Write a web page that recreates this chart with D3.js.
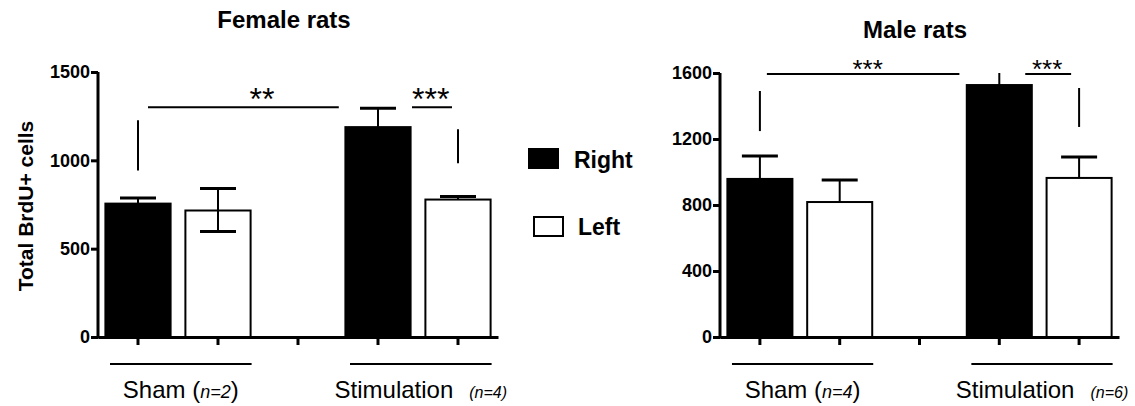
<!DOCTYPE html>
<html>
<head>
<meta charset="utf-8">
<script src="https://cdn.jsdelivr.net/npm/d3@7"></script>
<style>
  body { margin: 0; background: #fff; }
  svg text { font-family: Arial, "Liberation Sans", sans-serif; }
</style>
</head>
<body>
<script>
// slots on the x axis: two groups with an empty slot between them
var slots = ["Sham Right", "Sham Left", "gap", "Stimulation Right", "Stimulation Left"];
var barSlots = ["Sham Right", "Sham Left", "Stimulation Right", "Stimulation Left"];
var barSides = ["Right", "Left", "Right", "Left"];

var femaleMeans = [755, 716, 1188, 778];
var femaleErr = [32, 125, 107, 17];
var femaleErrLow = [0, 119, 0, 0];
var femaleTicks = [0, 500, 1000, 1500];

var maleMeans = [958, 818, 1527, 964];
var maleErr = [139, 134, 160, 127];
var maleErrLow = [0, 0, 0, 0];
var maleTicks = [0, 400, 800, 1200, 1600];

var groupNames = ["Sham", "Stimulation"];
var femaleN = ["n=2", "n=4"];
var maleN = ["n=4", "n=6"];

// significance bars (x in slot index units, y in data units)
var femaleSig = [
  {from: 0.125, to: 2.51, y: 1301, label: "**", at: 1.55},
  {from: 3.425, to: 3.925, y: 1301, label: "***", at: 3.66}
];
var femaleMarks = [{slot: 0, lo: 943, hi: 1227}, {slot: 4, lo: 983, hi: 1176}];
var maleSig = [
  {from: 0.0875, to: 2.5, y: 1594, label: "***", at: 1.35},
  {from: 3.325, to: 3.9, y: 1594, label: "***", at: 3.6}
];
var maleMarks = [{slot: 0, lo: 1248, hi: 1491}, {slot: 4, lo: 1273, hi: 1509}];

var width = 1135;
var height = 406;

var svg = d3.select("body").append("svg").attr("width", width).attr("height", height);

function drawPanel(p) {
  var g = svg.append("g");

  var x = d3.scaleBand()
    .domain(slots)
    .range([p.left, p.right])
    .paddingInner(0.16)
    .paddingOuter(0.08);
  // slot index -> pixel
  var xi = d3.scaleLinear().domain([-0.5, slots.length - 0.5]).range([p.left, p.right]);

  var y = d3.scaleLinear()
    .domain([0, p.max])
    .range([p.bottom, p.top]);

  // bars
  g.selectAll("rect.bar")
    .data(p.means)
    .enter()
    .append("rect")
    .attr("class", "bar")
    .attr("x", function(d, i) { return x(barSlots[i]) + 1; })
    .attr("width", x.bandwidth() - 2)
    .attr("y", function(d) { return y(d); })
    .attr("height", function(d) { return p.bottom - y(d); })
    .attr("fill", function(d, i) { return barSides[i] == "Right" ? "#000" : "#fff"; })
    .attr("stroke", "#000")
    .attr("stroke-width", 2);

  // error bars
  var cap = 36;
  p.means.forEach(function(m, i) {
    var cx = x(barSlots[i]) + x.bandwidth() / 2;
    var hi = Math.min(m + p.err[i], p.max);
    var lo = m - p.errLow[i];
    g.append("line")
      .attr("x1", cx).attr("x2", cx)
      .attr("y1", y(lo)).attr("y2", y(hi))
      .attr("stroke", "#000")
      .attr("stroke-width", 2);
    if (m + p.err[i] <= p.max) {
      g.append("line")
        .attr("x1", cx - cap / 2).attr("x2", cx + cap / 2)
        .attr("y1", y(hi)).attr("y2", y(hi))
        .attr("stroke", "#000").attr("stroke-width", 3);
    }
    if (p.errLow[i] > 0) {
      g.append("line")
        .attr("x1", cx - cap / 2).attr("x2", cx + cap / 2)
        .attr("y1", y(lo)).attr("y2", y(lo))
        .attr("stroke", "#000").attr("stroke-width", 3);
    }
  });

  // axes
  var axisY = d3.axisLeft(y).tickValues(p.ticks).tickFormat(d3.format("d"))
    .tickSize(7).tickSizeOuter(0).tickPadding(1);
  var gy = g.append("g")
    .attr("transform", "translate(" + p.left + ",0)")
    .call(axisY);
  gy.select(".domain").attr("stroke-width", 3).attr("d", "M0," + (p.bottom + 1.5) + "V" + p.top);
  gy.selectAll(".tick line").attr("stroke-width", 3);
  gy.selectAll(".tick text")
    .attr("font-size", 18)
    .attr("font-weight", "bold")
    .attr("fill", "#000")
    .attr("font-family", "Arial, 'Liberation Sans', sans-serif");

  var axisX = d3.axisBottom(x).tickSize(8).tickSizeOuter(0).tickFormat("");
  var gx = g.append("g")
    .attr("transform", "translate(0," + p.bottom + ")")
    .call(axisX);
  gx.select(".domain").attr("stroke-width", 3);
  gx.selectAll(".tick line").attr("stroke-width", 3);

  // group lines and labels
  groupNames.forEach(function(name, k) {
    var a = k * 3 - 0.35;
    var b = k * 3 + 1.42;
    g.append("line")
      .attr("x1", xi(a)).attr("x2", xi(b))
      .attr("y1", p.bottom + 27).attr("y2", p.bottom + 27)
      .attr("stroke", "#000").attr("stroke-width", 2);
    var t = g.append("text")
      .attr("x", (xi(a) + xi(b)) / 2)
      .attr("y", 398)
      .attr("text-anchor", "middle")
      .attr("font-size", 24)
      .attr("fill", "#000");
    if (k == 0) {
      t.append("tspan").text(name + " (");
      t.append("tspan").attr("font-style", "italic").attr("font-size", 18).text(p.n[k]);
      t.append("tspan").text(")");
    } else {
      t.append("tspan").text(name);
      t.append("tspan").attr("dx", 16).attr("font-style", "italic").attr("font-size", 16).text("(" + p.n[k] + ")");
    }
  });

  // significance bars
  p.sig.forEach(function(s) {
    g.append("line")
      .attr("x1", xi(s.from)).attr("x2", xi(s.to))
      .attr("y1", y(s.y)).attr("y2", y(s.y))
      .attr("stroke", "#000").attr("stroke-width", 2);
    g.append("text")
      .attr("x", xi(s.at))
      .attr("y", y(s.y) + p.starDy)
      .attr("text-anchor", "middle")
      .attr("font-size", p.starSize)
      .attr("fill", "#000")
      .text(s.label);
  });
  p.marks.forEach(function(s) {
    g.append("line")
      .attr("x1", xi(s.slot)).attr("x2", xi(s.slot))
      .attr("y1", y(s.lo)).attr("y2", y(s.hi))
      .attr("stroke", "#000").attr("stroke-width", 2);
  });

  // title
  g.append("text")
    .attr("x", p.titleX)
    .attr("y", p.titleY)
    .attr("text-anchor", "middle")
    .attr("font-size", 24)
    .attr("font-weight", "bold")
    .text(p.title);
}

drawPanel({
  title: "Female rats", titleX: 284, titleY: 28,
  left: 98, right: 498, top: 72, bottom: 337, max: 1500,
  means: femaleMeans, err: femaleErr, errLow: femaleErrLow, ticks: femaleTicks, n: femaleN,
  sig: femaleSig, marks: femaleMarks, starSize: 32, starDy: 3
});

drawPanel({
  title: "Male rats", titleX: 915, titleY: 38,
  left: 720, right: 1119, top: 73, bottom: 337, max: 1600,
  means: maleMeans, err: maleErr, errLow: maleErrLow, ticks: maleTicks, n: maleN,
  sig: maleSig, marks: maleMarks, starSize: 26, starDy: 4
});

// y axis title (female panel only)
svg.append("text")
  .attr("transform", "translate(33,206) rotate(-90)")
  .attr("text-anchor", "middle")
  .attr("font-size", 21)
  .attr("font-weight", "bold")
  .text("Total BrdU+ cells");

// legend
var legendSides = ["Right", "Left"];
var legend = svg.append("g");
legend.selectAll("rect")
  .data(legendSides)
  .enter()
  .append("rect")
  .attr("x", function(d, i) { return i == 0 ? 529 : 534; })
  .attr("y", function(d, i) { return i == 0 ? 149 : 217; })
  .attr("width", 29)
  .attr("height", 19)
  .attr("fill", function(d) { return d == "Right" ? "#000" : "#fff"; })
  .attr("stroke", "#000")
  .attr("stroke-width", 2);
legend.selectAll("text")
  .data(legendSides)
  .enter()
  .append("text")
  .attr("x", function(d, i) { return i == 0 ? 574 : 578; })
  .attr("y", function(d, i) { return i == 0 ? 168 : 235; })
  .attr("font-size", 23)
  .attr("font-weight", "bold")
  .text(function(d) { return d; });
</script>
</body>
</html>
